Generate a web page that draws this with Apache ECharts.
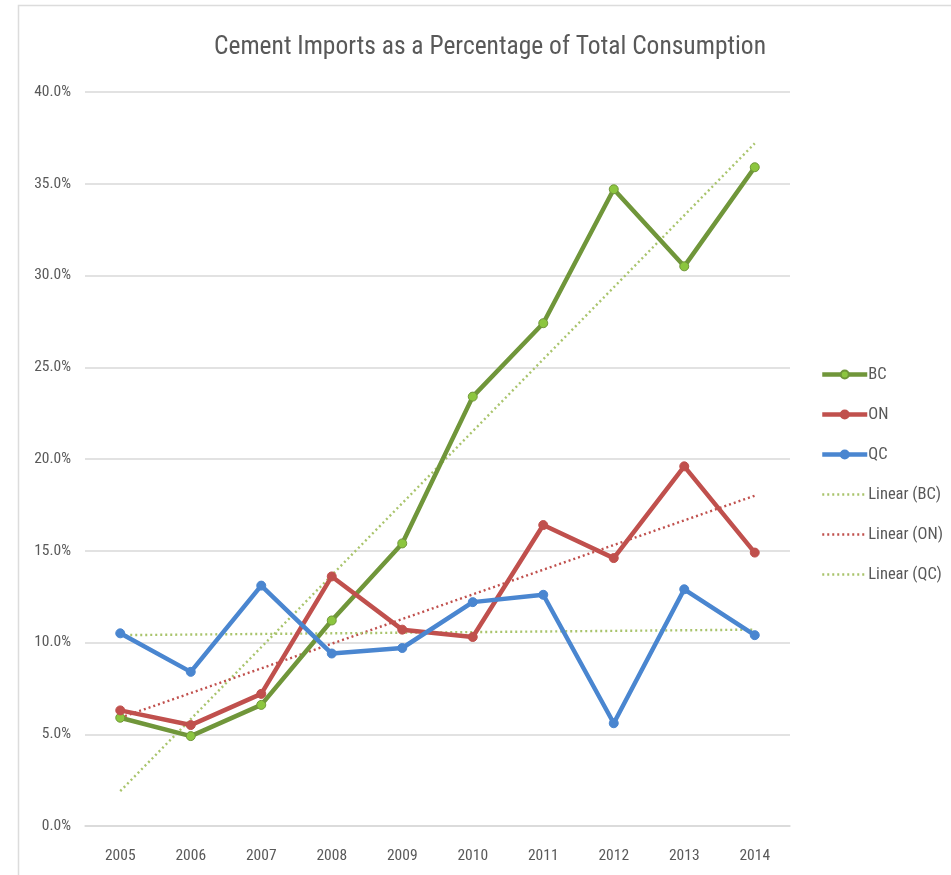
<!DOCTYPE html>
<html>
<head>
<meta charset="utf-8">
<script src="https://cdn.jsdelivr.net/npm/echarts@6/dist/echarts.min.js"></script>
<style>
  html, body { margin: 0; padding: 0; background: #ffffff; }
  #chart { width: 951px; height: 875px; }
</style>
</head>
<body>
<div id="chart"></div>
<script>
// Years on the category axis
const years = ['2005', '2006', '2007', '2008', '2009', '2010', '2011', '2012', '2013', '2014'];

// Cement imports as % of total consumption, by province
const bcValues = [5.9, 4.9, 6.6, 11.2, 15.4, 23.4, 27.4, 34.7, 30.5, 35.9];
const onValues = [6.3, 5.5, 7.2, 13.6, 10.7, 10.3, 16.4, 14.6, 19.6, 14.9];
const qcValues = [10.5, 8.4, 13.1, 9.4, 9.7, 12.2, 12.6, 5.6, 12.9, 10.4];

// Linear trend lines: value at the first year and at the last year
const bcTrend = [1.9, 37.2];
const onTrend = [5.9, 18.0];
const qcTrend = [10.4, 10.7];

// Value-axis tick labels (percent)
const yTicks = ['0.0%', '5.0%', '10.0%', '15.0%', '20.0%', '25.0%', '30.0%', '35.0%', '40.0%'];

const FONT = '"Liberation Sans Narrow", "Arial Narrow", "Roboto Condensed", sans-serif';
const TEXT = '#595959';

const GREEN = '#70963a';
const GREEN_MARK = '#8cc63f';
const RED = '#c0504d';
const BLUE = '#4a86d0';
const TREND_GREEN = '#a9c46c';

function trendData(pair) {
  const arr = years.map(() => null);
  arr[0] = pair[0];
  arr[years.length - 1] = pair[1];
  return arr;
}

function mainSeries(name, data, color, markColor) {
  return {
    name: name,
    type: 'line',
    data: data,
    symbol: 'circle',
    symbolSize: 9,
    lineStyle: { color: color, width: 4.5 },
    itemStyle: { color: markColor, borderColor: color, borderWidth: 1 },
    z: 5
  };
}

function trendSeries(name, pair, color) {
  return {
    name: name,
    type: 'line',
    data: trendData(pair),
    connectNulls: true,
    symbol: 'none',
    lineStyle: { color: color, width: 2.4, type: [2, 3] },
    itemStyle: { color: color },
    z: 3
  };
}

const chart = echarts.init(document.getElementById('chart'), null, { renderer: 'canvas' });

chart.setOption({
  backgroundColor: '#ffffff',
  animation: false,
  graphic: [{
    type: 'rect',
    shape: { x: 18.5, y: 5.5, width: 960, height: 900 },
    style: { fill: 'none', stroke: '#dcdcdc', lineWidth: 1.5 },
    silent: true
  }],
  title: {
    text: 'Cement Imports as a Percentage of Total Consumption',
    left: 485,
    textAlign: 'center',
    top: 30,
    textStyle: { fontFamily: FONT, fontSize: 25.5, fontWeight: 'normal', color: TEXT }
  },
  legend: {
    orient: 'vertical',
    left: 815,
    top: 361,
    itemGap: 23,
    itemWidth: 45,
    itemHeight: 10,
    textStyle: { fontFamily: FONT, fontSize: 16.5, color: TEXT, padding: [0, 0, 0, -4] },
    data: [
      { name: 'BC', lineStyle: { width: 4.5 } },
      { name: 'ON', lineStyle: { width: 4.5 } },
      { name: 'QC', lineStyle: { width: 4.5 } },
      { name: 'Linear (BC)', itemStyle: { opacity: 0 }, lineStyle: { width: 2.4 } },
      { name: 'Linear (ON)', itemStyle: { opacity: 0 }, lineStyle: { width: 2.4 } },
      { name: 'Linear (QC)', itemStyle: { opacity: 0 }, lineStyle: { width: 2.4 } }
    ]
  },
  grid: { left: 85, right: 161, top: 92, bottom: 49 },
  xAxis: {
    type: 'category',
    data: years,
    boundaryGap: true,
    axisLine: { show: true, lineStyle: { color: '#d9d9d9', width: 1.5 } },
    axisTick: { show: false },
    axisLabel: { fontFamily: FONT, fontSize: 15.5, color: TEXT, margin: 22 }
  },
  yAxis: {
    type: 'value',
    min: 0,
    max: 40,
    interval: 5,
    axisLine: { show: false },
    axisTick: { show: false },
    splitLine: { lineStyle: { color: '#d9d9d9', width: 1.5 } },
    axisLabel: {
      fontFamily: FONT, fontSize: 15.5, color: TEXT, margin: 14,
      formatter: (v) => yTicks[Math.round(v / 5)]
    }
  },
  series: [
    mainSeries('BC', bcValues, GREEN, GREEN_MARK),
    mainSeries('ON', onValues, RED, RED),
    mainSeries('QC', qcValues, BLUE, BLUE),
    trendSeries('Linear (BC)', bcTrend, TREND_GREEN),
    trendSeries('Linear (ON)', onTrend, RED),
    trendSeries('Linear (QC)', qcTrend, TREND_GREEN)
  ]
});
</script>
</body>
</html>
